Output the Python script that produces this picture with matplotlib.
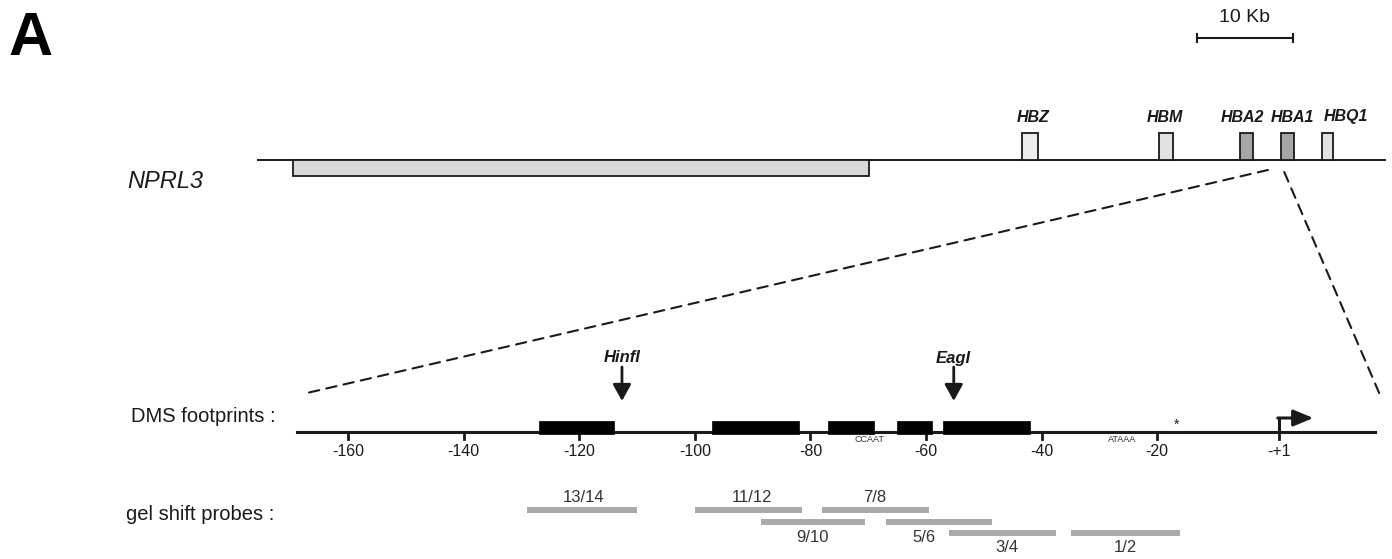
import matplotlib
matplotlib.use("Agg")
import matplotlib.pyplot as plt
from matplotlib.patches import Rectangle, ConnectionPatch

plt.rcParams['font.family'] = ['Liberation Sans', 'DejaVu Sans']

# ---------------- data ----------------
# upper map (kb)
backbone_kb = [0.0, 117.4]
nprl3_kb = [3.65, 63.6]
gene_names = ["HBZ", "HBM", "HBA2", "HBA1", "HBQ1"]
gene_start_kb = [79.6, 93.85, 102.3, 106.6, 110.8]
gene_end_kb = [81.25, 95.3, 103.65, 107.9, 112.0]
gene_label_kb = [80.7, 94.5, 102.5, 107.8, 113.3]
gene_fill = ["#ececec", "#e2e2e2", "#a6a6a6", "#a6a6a6", "#e2e2e2"]
scalebar_start_kb = 97.8
scalebar_len_kb = 10
zoom_from_kb = [105.2, 106.9]

# lower map (bp)
promoter_span_bp = [-168.8, 17.7]
tick_bp = [-160, -140, -120, -100, -80, -60, -40, -20, 1]
tick_labels = ["-160", "-140", "-120", "-100", "-80", "-60", "-40", "-20", "-+1"]
footprint_start = [-127, -97, -77, -65, -57]
footprint_end = [-114, -82, -69, -59, -42]
sites = ["CCAAT", "ATAAA"]
site_bp = [-69.7, -26.1]
star_bp = -16.6
enzymes = ["HinfI", "EagI"]
enzyme_bp = [-112.6, -55.2]
tss_bp = 1
tss_arrow_end_bp = 7
zoom_to_bp = [-167.1, 18.4]

probe_names = ["13/14", "11/12", "7/8", "9/10", "5/6", "3/4", "1/2"]
probe_start = [-129, -100, -78, -88.5, -67, -56, -35]
probe_end = [-110, -81.5, -59.5, -70.5, -48.5, -37.5, -16]
probe_row = [0, 0, 0, 1, 1, 2, 2]
probe_label_bp = [-119.3, -90.1, -68.8, -79.7, -60.3, -46.0, -25.5]

# ---------------- layout ----------------
W, H = 1392, 559
fig = plt.figure(figsize=(W / 100, H / 100), dpi=100)

ax_kb = fig.add_axes([0, 0, 1, 1])
ax_kb.set_xlim(-258 / 9.6, (W - 258) / 9.6)
ax_kb.set_ylim(H, 0)
ax_kb.axis("off")

ax_bp = fig.add_axes([0, 0, 1, 1])
ax_bp.set_xlim(-1272.8 / 5.78, (W - 1272.8) / 5.78)
ax_bp.set_ylim(H, 0)
ax_bp.axis("off")
ax_bp.patch.set_visible(False)

dark = "#1a1a1a"

# panel letter & labels
fig.text(31 / W, 1 - 55 / H, "A", fontsize=44, fontweight="bold", ha="center", va="baseline")
fig.text(165 / W, 1 - 181 / H, "NPRL3", fontsize=17, style="italic", ha="center", va="center", color=dark)
fig.text(276 / W, 1 - 417 / H, "DMS footprints :", fontsize=14.5, ha="right", va="center", color=dark)
fig.text(274 / W, 1 - 515 / H, "gel shift probes :", fontsize=14.5, ha="right", va="center", color=dark)

# ---- upper map ----
y_bb = 160
ax_kb.plot(backbone_kb, [y_bb, y_bb], color=dark, lw=1.4, zorder=2)
ax_kb.add_patch(Rectangle((nprl3_kb[0], y_bb), nprl3_kb[1] - nprl3_kb[0], 16,
                          facecolor="#d9d9d9", edgecolor=dark, lw=1.3, zorder=3))
for name, s, e, lx, fc in zip(gene_names, gene_start_kb, gene_end_kb, gene_label_kb, gene_fill):
    ax_kb.add_patch(Rectangle((s, y_bb - 27), e - s, 27, facecolor=fc, edgecolor=dark, lw=1.3, zorder=3))
    ax_kb.text(lx, 117, name, fontsize=11.5, fontweight="bold", style="italic",
               ha="center", va="center", color=dark)

# scale bar
sb0, sb1 = scalebar_start_kb, scalebar_start_kb + scalebar_len_kb
ax_kb.plot([sb0, sb1], [38, 38], color=dark, lw=1.5)
for xx in (sb0, sb1):
    ax_kb.plot([xx, xx], [34, 42], color=dark, lw=1.5)
ax_kb.text((sb0 + sb1) / 2, 17, f"{scalebar_len_kb} Kb", fontsize=14, ha="center", va="center", color=dark)

# ---- lower map ----
y_ln = 432
ax_bp.plot(promoter_span_bp, [y_ln, y_ln], color=dark, lw=2.2, zorder=2)
for t, lab in zip(tick_bp, tick_labels):
    ax_bp.plot([t, t], [y_ln, y_ln + 7], color=dark, lw=2, zorder=2)
    ax_bp.text(t, 452, lab, fontsize=11.5, ha="center", va="center", color=dark)

for s, e in zip(footprint_start, footprint_end):
    ax_bp.add_patch(Rectangle((s, y_ln - 11), e - s, 13, facecolor="black", edgecolor="black", lw=0.5, zorder=3))

for name, x in zip(sites, site_bp):
    ax_bp.text(x, 440, name, fontsize=6.5, ha="center", va="center", color="#333333")
ax_bp.text(star_bp, 425, "*", fontsize=10, ha="center", va="center", color=dark)

for name, x in zip(enzymes, enzyme_bp):
    ax_bp.annotate("", xy=(x, 401), xytext=(x, 367),
                   arrowprops=dict(arrowstyle="-|>,head_length=1.0,head_width=0.55",
                                   lw=2, color=dark, shrinkA=0, shrinkB=0))
    ax_bp.text(x, 358, name, fontsize=12, fontweight="bold", style="italic",
               ha="center", va="center", color=dark)

# transcription start arrow
ax_bp.plot([tss_bp, tss_bp], [y_ln, 418], color=dark, lw=2.2, solid_capstyle="butt")
ax_bp.annotate("", xy=(tss_arrow_end_bp, 418), xytext=(tss_bp - 0.15, 418),
               arrowprops=dict(arrowstyle="-|>,head_length=1.2,head_width=0.5",
                               lw=2.2, color=dark, shrinkA=0, shrinkB=0))

# gel shift probes
row_y = [510, 522, 533]
for name, s, e, r, lx in zip(probe_names, probe_start, probe_end, probe_row, probe_label_bp):
    y = row_y[r]
    ax_bp.plot([s, e], [y, y], color="#aaaaaa", lw=4.3, solid_capstyle="butt")
    ly = 497 if r == 0 else y + 15
    ax_bp.text(lx, ly, name, fontsize=12, ha="center", va="center", color="#333333")

# dashed zoom lines
for xk, yk, xb in zip(zoom_from_kb, [170, 172], zoom_to_bp):
    con = ConnectionPatch(xyA=(xk, yk), coordsA=ax_kb.transData,
                          xyB=(xb, 393), coordsB=ax_bp.transData,
                          linestyle=(0, (5, 3.5)), lw=1.5, color=dark)
    fig.add_artist(con)

fig.savefig("out.png", dpi=100)
